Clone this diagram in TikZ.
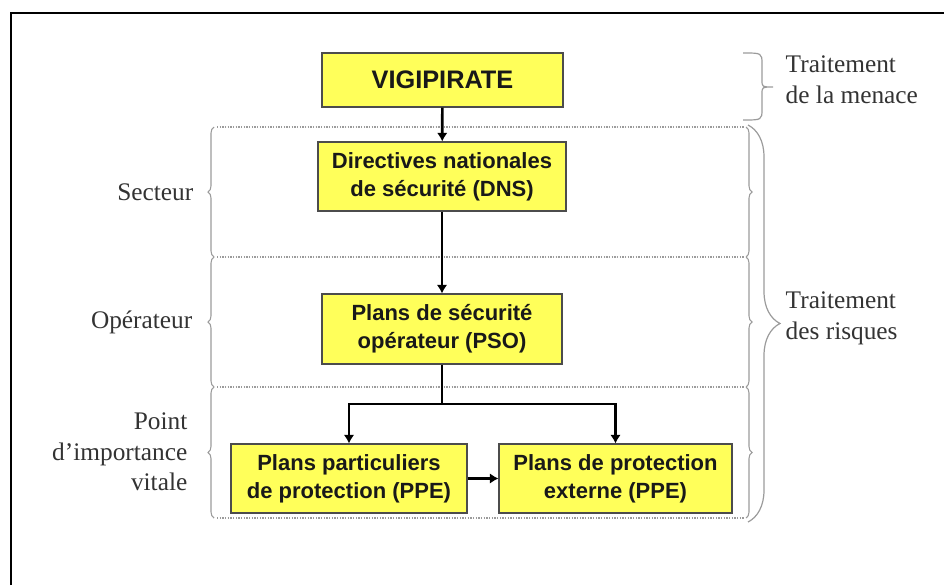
\documentclass[tikz,border=0pt]{standalone}
\usepackage{fontspec}
\setmainfont{Liberation Serif}
\newfontfamily\boxfont{Liberation Sans}
\usetikzlibrary{arrows.meta,decorations.pathreplacing}
\definecolor{boxyellow}{RGB}{255,255,90}
\definecolor{framegray}{RGB}{155,155,155}
\tikzset{
  plan/.style={draw=black!70, fill=boxyellow, line width=0.8pt, align=center, inner sep=0pt,
    text=black!90, font=\boxfont\bfseries\fontsize{16.5}{21}\selectfont},
  arr/.style={line width=2pt, -{Latex[length=6.5pt,width=8pt]}},
  rowline/.style={draw=framegray, densely dotted, line width=1pt},
  rowbrace/.style={draw=framegray, line width=0.8pt, decorate, decoration={brace,amplitude=4.5pt}},
  sidetext/.style={align=right, anchor=east, text=black!80, font=\fontsize{19}{23}\selectfont},
  righttext/.style={align=left, anchor=west, text=black!80, font=\fontsize{19}{23}\selectfont},
}
\begin{document}
\begin{tikzpicture}[x=0.75pt,y=-0.75pt]
  \useasboundingbox (0,0) rectangle (944,585);
  % frame of the page
  \draw[line width=1.5pt] (11,585) -- (11,13) -- (944,13);

  % rows
  \foreach \y in {127,257,387,518}
    \draw[rowline] (217,\y) -- (744,\y);
  \foreach \a/\b in {127/257,257/387,387/518} {
    \draw[rowbrace] (214,\b) -- (214,\a);
    \draw[rowbrace] (746,\a) -- (746,\b);
  }

  % plans
  \node[plan, minimum width=180.75pt, minimum height=40.5pt,
    font=\boxfont\bfseries\fontsize{19}{22}\selectfont] (vigi) at (442.5,80) {VIGIPIRATE};
  \node[plan, minimum width=186pt, minimum height=51.75pt] (dns) at (442,176.5)
    {Directives nationales\\de sécurité (DNS)};
  \node[plan, minimum width=180pt, minimum height=52.5pt] (pso) at (442,329)
    {Plans de sécurité\\opérateur (PSO)};
  \node[plan, minimum width=177pt, minimum height=51.75pt] (ppp) at (349,478.5)
    {Plans particuliers\\de protection (PPE)};
  \node[plan, minimum width=174.75pt, minimum height=51.75pt] (ppe) at (615.5,478.5)
    {Plans de protection\\externe (PPE)};
  \coordinate (branch) at (442,404);

  \draw[arr] (vigi) -- (dns);
  \draw[arr] (dns) -- (pso);
  \draw[line width=2pt] (pso.south) -- (branch);
  \draw[arr] (branch) -| (ppp.north);
  \draw[arr] (branch) -| (ppe.north);
  \draw[arr] (ppp) -- (ppe);

  % levels
  \node[sidetext] (secteur) at (198,192) {Secteur};
  \node[sidetext] (operateur) at (197,322) {Opérateur};
  \node[sidetext] (piv) at (192,452) {Point\\d'importance\\vitale};

  % braces on the right
  \draw[framegray, line width=0.9pt] (743,53) .. controls (762,53) .. (762,64) -- (762,80)
    .. controls (762,87) .. (773,87) .. controls (762,87) .. (762,94) -- (762,109)
    .. controls (762,120) .. (743,120);
  \draw[framegray, line width=0.9pt, decorate, decoration={brace,amplitude=24pt}]
    (748,125) -- (748,522);
  \node[righttext] (menace) at (781,80) {Traitement\\de la menace};
  \node[righttext] (risques) at (781,318) {Traitement\\des risques};
\end{tikzpicture}
\end{document}
